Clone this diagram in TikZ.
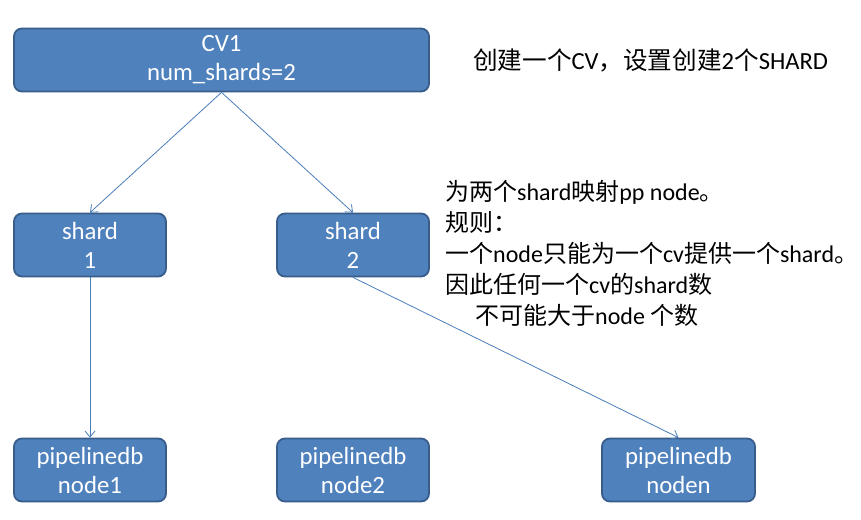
\documentclass[tikz,border=0pt]{standalone}
\usepackage{fontspec}
\setmainfont{Carlito}
\newfontfamily\cjk{Noto Sans CJK SC}
\usetikzlibrary{arrows.meta}
\definecolor{boxfill}{HTML}{4F81BD}
\definecolor{boxline}{HTML}{385D8A}
\definecolor{arrowc}{HTML}{4A7EBB}
\tikzset{
  box/.style={draw=boxline, line width=1.8pt, fill=boxfill, rounded corners=8pt,
    text=white, align=center, inner sep=0pt, minimum height=63pt,
    font=\fontsize{24.8}{29}\selectfont},
  conn/.style={draw=arrowc, line width=0.8pt, -{Straight Barb[length=6pt,width=10pt]}},
  note/.style={anchor=north west, inner sep=0pt, align=left, text=black,
    font=\fontsize{24}{31}\selectfont}
}
\begin{document}
\begin{tikzpicture}[x=1pt,y=-1pt]
\useasboundingbox (0,0) rectangle (861,519);
\fill[white] (0,0) rectangle (861,519);
\node[box, minimum width=415pt] (cv) at (221.5,60) {CV1\\num\_shards=2};
\node[box, minimum width=152pt] (s1) at (90,245) {shard\\1};
\node[box, minimum width=152pt] (s2) at (353,245) {shard\\2};
\node[box, minimum width=152pt] (n1) at (90,470) {pipelinedb\\node1};
\node[box, minimum width=152pt] (n2) at (353,470) {pipelinedb\\node2};
\node[box, minimum width=153pt] (nn) at (678.5,470) {pipelinedb\\noden};
\draw[conn] (cv.south) -- (s1.north);
\draw[conn] (cv.south) -- (s2.north);
\draw[conn] (s1.south) -- (n1.north);
\draw[conn] (s2.south) -- (nn.north);
\node[anchor=west, inner sep=0pt, font=\fontsize{24.6}{29}\selectfont] (t1) at (473,60)
  {{\cjk 创建一个}CV{\cjk ，设置创建}2{\cjk 个}SHARD};
\node[note] (t2) at (445,180)
  {{\cjk 为两个}shard{\cjk 映射}pp node{\cjk 。}\\
   {\cjk 规则：}\\
   {\cjk 一个}node{\cjk 只能为一个}cv{\cjk 提供一个}shard{\cjk 。}\\
   {\cjk 因此任何一个}cv{\cjk 的}shard{\cjk 数}\\
   \hspace*{30pt}{\cjk 不可能大于}node {\cjk 个数}};
\end{tikzpicture}
\end{document}
